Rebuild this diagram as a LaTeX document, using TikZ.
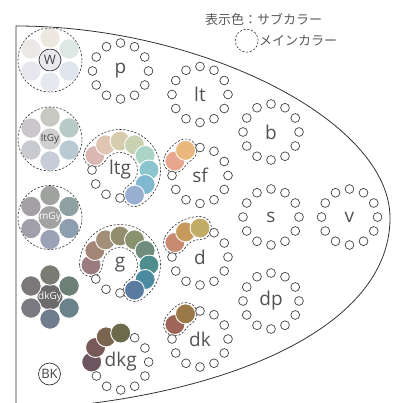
\documentclass[tikz,border=0pt]{standalone}
\usepackage{fontspec}
\setmainfont{Open Sans}
\newfontfamily\jpfont{Noto Sans CJK JP}
\definecolor{inkgray}{HTML}{444444}
% tone chips
\definecolor{ltgA}{HTML}{D9B7B3}
\definecolor{ltgB}{HTML}{DFC5B2}
\definecolor{ltgC}{HTML}{D6CCAE}
\definecolor{ltgD}{HTML}{C9D1B2}
\definecolor{ltgE}{HTML}{AAD5C6}
\definecolor{ltgF}{HTML}{8BC6CF}
\definecolor{ltgG}{HTML}{80B8D2}
\definecolor{ltgH}{HTML}{98AFD2}
\definecolor{gA}{HTML}{9A7B80}
\definecolor{gB}{HTML}{A48677}
\definecolor{gC}{HTML}{A38F78}
\definecolor{gD}{HTML}{948E6E}
\definecolor{gE}{HTML}{89916F}
\definecolor{gF}{HTML}{6F8C7C}
\definecolor{gG}{HTML}{4F8E8E}
\definecolor{gH}{HTML}{4B8AA0}
\definecolor{gI}{HTML}{5A7BA0}
\definecolor{dkgA}{HTML}{6E5660}
\definecolor{dkgB}{HTML}{775A58}
\definecolor{dkgC}{HTML}{7A6450}
\definecolor{dkgD}{HTML}{6B6A4C}
\definecolor{sfA}{HTML}{E8A68E}
\definecolor{sfB}{HTML}{EAB87C}
\definecolor{dA}{HTML}{C88A72}
\definecolor{dB}{HTML}{C59A5C}
\definecolor{dC}{HTML}{C2AD66}
\definecolor{dkA}{HTML}{9D6658}
\definecolor{dkB}{HTML}{9A7848}
% gray chips
\definecolor{W1}{HTML}{ECE8E0}
\definecolor{W2}{HTML}{DDE8E4}
\definecolor{W3}{HTML}{DFE6EE}
\definecolor{W4}{HTML}{E6E8F0}
\definecolor{W5}{HTML}{E8E6EE}
\definecolor{W6}{HTML}{EDE8E8}
\definecolor{Wc}{HTML}{EAEAEE}
\definecolor{ltGy1}{HTML}{C8C8C2}
\definecolor{ltGy2}{HTML}{BACBC7}
\definecolor{ltGy3}{HTML}{BACAD2}
\definecolor{ltGy4}{HTML}{C6CCD8}
\definecolor{ltGy5}{HTML}{C9C9D0}
\definecolor{ltGy6}{HTML}{CAC6CA}
\definecolor{ltGyc}{HTML}{D0D0D0}
\definecolor{mGy1}{HTML}{A0A29F}
\definecolor{mGy2}{HTML}{8FA1A0}
\definecolor{mGy3}{HTML}{8D9FAE}
\definecolor{mGy4}{HTML}{9CA2B6}
\definecolor{mGy5}{HTML}{A19FAB}
\definecolor{mGy6}{HTML}{A59FA6}
\definecolor{mGyc}{HTML}{A2A2A2}
\definecolor{dkGy1}{HTML}{7A7C74}
\definecolor{dkGy2}{HTML}{6D8078}
\definecolor{dkGy3}{HTML}{6A8289}
\definecolor{dkGy4}{HTML}{6F7D8D}
\definecolor{dkGy5}{HTML}{7B7A83}
\definecolor{dkGy6}{HTML}{7C7879}
\definecolor{dkGyc}{HTML}{6B6B6B}
\begin{document}
\begin{tikzpicture}[x=1pt, y=1pt,
ringdot/.style={circle, draw=inkgray, line width=0.7pt, fill=white, minimum size=8.8pt, inner sep=0pt},
chip/.style={circle, draw=white, line width=0.9pt, minimum size=20pt, inner sep=0pt},
graychip/.style={circle, draw=white, line width=0.9pt, minimum size=20.5pt, inner sep=0pt},
graycore/.style={circle, minimum size=22pt, inner sep=0pt, font=\fontsize{10}{10}\selectfont},
tonelabel/.style={inner sep=0pt, text=black!68, font=\fontsize{19}{19}\selectfont},
groupline/.style={draw=black!80, line width=0.6pt, dash pattern=on 2.2pt off 1.6pt},
keytext/.style={anchor=west, inner sep=0pt, text=black!65, font=\jpfont\fontsize{13}{13}\selectfont},
]
\useasboundingbox (0,0) rectangle (394,-403);

%Frame
\begin{scope}
\clip (0,0) rectangle (394,-403);
\draw[black!80, line width=0.8pt] (16,-410) -- (16,-26) .. controls (200,-26) and (390,-120) .. (390,-218)
  .. controls (390,-330) and (220,-400) .. (16,-410);
\end{scope}

%Key
\node[keytext] (subkey) at (205,-19) {表示色：サブカラー};
\node[circle, groupline, minimum size=23pt, inner sep=0pt] (mainring) at (246.7,-40.7) {};
\node[keytext] (mainkey) at (259,-40.7) {メインカラー};

%Gray scale
\node[graycore, draw=black!80, line width=0.7pt, fill=Wc, text=inkgray, font=\fontsize{13}{13}\selectfont] (W) at (50,-60) {W};
\node[graycore, draw=white, fill=ltGyc, text=inkgray] (ltGy) at (50,-139) {ltGy};
\node[graycore, draw=white, fill=mGyc, text=white] (mGy) at (50,-217.5) {mGy};
\node[graycore, draw=white, fill=dkGyc, text=white] (dkGy) at (50,-297) {dkGy};
\node[graycore, draw=black!80, line width=0.7pt, fill=white, text=inkgray, font=\fontsize{13}{13}\selectfont] (BK) at (49.5,-374) {BK};
\foreach \n in {W, ltGy, mGy, dkGy}
  \foreach \a [count=\i] in {90,30,-30,-90,-150,150}
    \node[graychip, fill=\n\i] (\n-\i) at ([shift={(\a:22)}]\n) {};
\foreach \n in {W, ltGy, mGy}
  \node[circle, groupline, minimum size=64pt, inner sep=0pt] (\n-ring) at (\n) {};

%Tones
\foreach \t/\x/\y in {p/120.5/71, lt/200/94.5, b/271/132, s/271/217, v/349.5/217, dp/271/301,
    ltg/120/170, sf/200/175.5, g/120/265, d/200/257, dk/200/339, dkg/120.7/362}
  \node[tonelabel] (\t) at (\x,-\y) {\t};

%Main colour groups
\foreach \t/\a/\b in {ltg/150/-60, g/180/-60, sf/150/120, d/150/90, dk/150/120}{
  \pgfmathsetmacro\capa{\a+180}
  \pgfmathsetmacro\capb{\b-180}
  \draw[groupline] ([shift={(\a:40.5)}]\t) arc[start angle=\a, end angle=\b, radius=40.5]
    arc[start angle=\b, end angle=\capb, radius=11.5] arc[start angle=\b, end angle=\a, radius=17.5]
    arc[start angle=\capa, end angle=\a, radius=11.5] -- cycle;
}

%Colour chips
\foreach \t/\a/\c in {ltg/150/ltgA, ltg/120/ltgB, ltg/90/ltgC, ltg/60/ltgD, ltg/30/ltgE, ltg/0/ltgF, ltg/-30/ltgG, ltg/-60/ltgH,
    g/180/gA, g/150/gB, g/120/gC, g/90/gD, g/60/gE, g/30/gF, g/0/gG, g/-30/gH, g/-60/gI,
    dkg/180/dkgA, dkg/150/dkgB, dkg/120/dkgC, dkg/90/dkgD,
    sf/150/sfA, sf/120/sfB, d/150/dA, d/120/dB, d/90/dC, dk/150/dkA, dk/120/dkB}
  \node[chip, fill=\c] (\t-\a) at ([shift={(\a:29)}]\t) {};

%Empty places
\foreach \t/\angs in {p/{0,30,...,330}, lt/{0,30,...,330}, b/{0,30,...,330}, s/{0,30,...,330}, v/{0,30,...,330},
    dp/{0,30,...,330}, ltg/{180,210,240,270}, g/{210,240,270}, dkg/{60,30,...,-150},
    sf/{180,210,...,450}, d/{180,210,...,420}, dk/{180,210,...,450}}
  \foreach \a in \angs
    \node[ringdot] (\t-\a) at ([shift={(\a:28)}]\t) {};
\end{tikzpicture}
\end{document}
